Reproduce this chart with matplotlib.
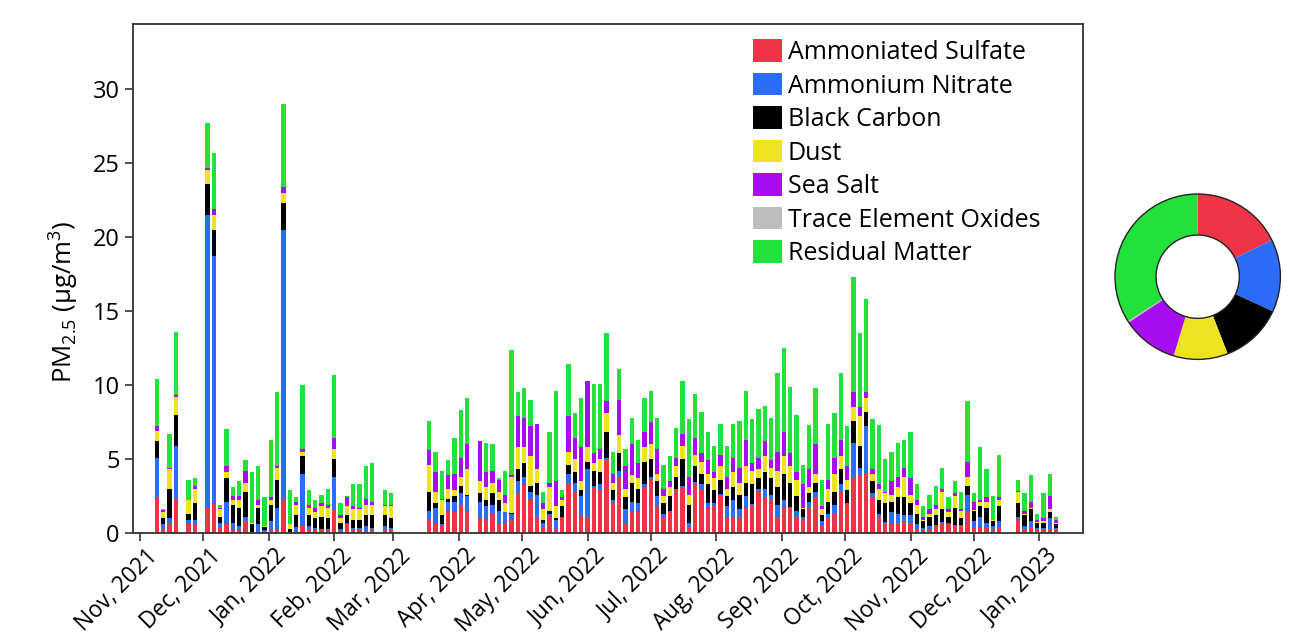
import matplotlib
matplotlib.use("agg")
import matplotlib.pyplot as plt
import matplotlib.dates as mdates
import matplotlib.transforms as mtransforms
from matplotlib.patches import Circle
import numpy as np
import pandas as pd

nan = np.nan

# sampling every 3rd day, first sample 2021-11-09
start_date = "2021-11-09"
n_samples = 143

# species mass (ug/m3) per sample, nan = no sample
sulfate = [
    2.4, 0.3, 0.7, 2.3, nan, 0.6, 0.6, nan, 1.7, 2.0,
    0.4, 0.6, 0.2, 0.3, 0.8, 0.05, 0.1, 0.0, 0.2, 0.2,
    2.3, 0.05, 0.1, 0.5, 0.2, 0.3, 0.2, 0.2, 1.6, 0.1,
    0.6, 0.3, 0.3, 0.1, 0.3, nan, 0.3, 0.3, nan, nan,
    nan, nan, nan, 0.9, 0.6, 0.5, 1.5, 1.4, 1.9, 1.5,
    nan, 1.0, 0.9, 1.3, 0.7, 0.7, 0.9, 2.7, 3.3, 2.2,
    1.1, 0.4, 1.2, 0.2, 1.0, 3.3, 2.8, 1.2, 1.1, 3.1,
    2.9, 5.0, 2.0, 3.8, 0.7, 1.4, 1.5, 3.1, 3.6, 1.8,
    1.1, 1.4, 2.9, 3.1, 0.4, 3.4, 3.0, 1.7, 1.8, 2.6,
    1.0, 1.1, 1.1, 1.7, 1.9, 2.8, 2.4, 2.3, 1.1, 1.7,
    1.7, 1.1, 0.9, 1.7, 2.4, 0.5, 1.0, 1.3, 2.8, 2.0,
    3.8, 3.9, 4.0, 2.4, 1.1, 0.7, 0.6, 0.7, 0.8, 0.7,
    0.3, 0.3, 0.3, 0.5, 0.7, 0.6, 0.5, 0.5, 1.5, 0.4,
    0.4, 0.4, 0.3, 0.4, nan, nan, 0.9, 0.3, 0.4, 0.3,
    0.3, 0.3, 0.3,
]
nitrate = [
    2.7, 0.3, 0.3, 3.6, nan, 0.3, 0.3, nan, 19.8, 16.7,
    0.3, 1.5, 0.5, 0.2, 0.3, 0.05, 0.5, 0.2, 0.6, 1.5,
    18.2, 0.05, 0.3, 3.5, 0.3, 0.05, 0.1, 0.1, 2.2, 0.2,
    0.05, 0.05, 0.05, 0.4, 0.05, nan, 0.2, 0.05, nan, nan,
    nan, nan, nan, 0.6, 1.1, 0.1, 0.6, 0.7, 0.8, 1.0,
    nan, 1.1, 0.9, 0.6, 0.8, 0.7, 0.4, 0.8, 0.5, 0.6,
    1.5, 0.3, 0.1, 0.7, 0.05, 0.7, 0.6, 1.3, 3.2, 0.1,
    0.4, 0.1, 0.2, 0.4, 0.9, 0.7, 0.5, 0.2, 0.2, 0.7,
    0.2, 0.1, 0.05, 0.05, 0.3, 0.05, 0.3, 0.3, 0.2, 0.05,
    0.8, 1.1, 0.5, 0.8, 0.05, 0.2, 0.6, 0.3, 0.8, 0.5,
    0.05, 0.4, 0.2, 0.4, 0.4, 0.3, 0.3, 0.6, 0.5, 0.05,
    2.3, 0.5, 3.2, 0.3, 0.2, 0.05, 0.8, 0.6, 0.4, 0.5,
    0.3, 0.05, 0.2, 0.05, 0.05, 0.05, 0.05, 0.05, 1.1, 0.4,
    0.7, 0.3, 0.2, 0.4, nan, nan, 0.2, 0.2, 0.4, 0.05,
    0.05, 0.7, 0.05,
]
black_carbon = [
    1.1, 0.4, 2.0, 2.1, nan, 0.4, 1.1, nan, 2.1, 1.8,
    0.4, 1.6, 1.2, 1.2, 1.7, 0.5, 1.1, 0.2, 1.1, 1.9,
    1.8, 0.2, 0.8, 1.2, 0.7, 0.65, 0.8, 0.7, 1.2, 0.4,
    0.55, 0.55, 0.55, 0.7, 0.85, nan, 0.7, 0.65, nan, nan,
    nan, nan, nan, 1.3, 0.3, 0.6, 0.2, 0.4, 0.5, 0.1,
    nan, 0.6, 0.4, 0.8, 0.7, 0.05, 0.05, 0.8, 0.9, 0.4,
    0.8, 0.2, 0.2, 0.1, 0.75, 0.6, 0.7, 0.4, 0.5, 1.0,
    0.8, 1.7, 0.7, 1.2, 0.8, 1.3, 1.0, 1.5, 1.2, 1.0,
    0.7, 1.0, 0.85, 1.85, 1.2, 1.05, 0.7, 1.3, 0.9, 0.95,
    0.7, 0.9, 1.0, 0.9, 1.35, 0.7, 1.1, 1.1, 1.2, 1.8,
    1.65, 1.0, 0.5, 0.6, 0.6, 0.4, 0.8, 0.9, 1.0, 0.85,
    1.5, 1.5, 1.0, 0.8, 0.9, 1.25, 0.7, 1.1, 1.2, 0.8,
    0.7, 0.45, 0.6, 0.65, 0.85, 0.45, 1.15, 0.45, 0.6, 0.7,
    0.7, 1.0, 0.3, 1.0, nan, nan, 0.9, 0.7, 0.8, 0.35,
    0.35, 0.4, 0.25,
]
dust = [
    0.7, 0.4, 1.3, 1.2, nan, 0.9, 1.0, nan, 0.9, 1.0,
    0.5, 0.4, 0.3, 0.5, 0.6, 0.05, 0.2, 0.05, 0.3, 0.8,
    0.7, 0.3, 0.7, 0.3, 0.5, 0.4, 0.7, 0.7, 0.7, 0.3,
    0.6, 0.7, 0.7, 0.7, 0.7, nan, 0.6, 0.8, nan, nan,
    nan, nan, nan, 1.8, 0.8, 1.0, 0.7, 0.4, 0.6, 1.7,
    nan, 0.8, 0.9, 0.7, 0.6, 0.55, 2.45, 1.5, 1.1, 2.0,
    0.9, 0.7, 1.6, 0.8, 0.4, 0.9, 0.9, 0.6, 1.0, 0.5,
    0.9, 1.3, 0.5, 1.2, 0.6, 0.5, 0.7, 1.0, 1.0, 0.5,
    0.5, 0.6, 0.7, 0.9, 0.7, 0.8, 0.8, 0.7, 0.8, 0.9,
    0.5, 1.0, 0.8, 1.1, 0.9, 0.6, 1.1, 0.7, 1.1, 1.2,
    1.1, 1.1, 0.1, 0.4, 0.6, 0.4, 0.9, 1.2, 0.9, 0.7,
    0.9, 2.0, 0.9, 0.5, 0.8, 0.7, 0.5, 0.7, 1.4, 0.6,
    0.6, 0.1, 0.2, 0.4, 1.2, 0.3, 0.8, 0.5, 0.6, 0.05,
    0.3, 0.4, 0.05, 0.4, nan, nan, 0.8, 0.1, 0.1, 0.05,
    0.1, 0.2, 0.05,
]
sea_salt = [
    0.3, 0.15, 0.1, 0.1, nan, 0.0, 0.2, nan, 0.2, 0.4,
    0.1, 0.4, 0.3, 0.3, 0.8, 0.05, 0.3, 0.05, 0.2, 0.1,
    0.4, 0.0, 0.2, 0.2, 0.2, 0.3, 0.2, 0.2, 0.7, 0.2,
    0.6, 0.2, 0.1, 0.4, 0.2, nan, 0.1, 0.1, nan, nan,
    nan, nan, nan, 1.0, 1.3, 0.1, 0.9, 1.1, 1.3, 1.7,
    nan, 2.7, 1.0, 0.8, 0.8, 0.6, 0.1, 2.1, 2.0, 2.0,
    3.1, 0.4, 0.3, 1.7, 0.2, 2.4, 1.4, 2.3, 4.5, 0.7,
    0.7, 0.8, 0.6, 2.4, 1.5, 2.1, 1.0, 1.0, 1.5, 1.7,
    0.5, 0.4, 0.6, 0.8, 1.2, 1.1, 0.6, 0.9, 0.4, 0.8,
    0.8, 1.0, 1.0, 1.8, 0.5, 0.8, 1.0, 0.5, 1.3, 1.6,
    0.9, 0.5, 1.6, 1.2, 2.0, 0.2, 0.6, 1.1, 1.1, 0.9,
    1.0, 0.6, 0.4, 0.3, 0.3, 0.1, 0.9, 0.7, 0.6, 1.1,
    0.3, 0.2, 0.3, 0.3, 0.2, 0.2, 0.2, 0.1, 1.0, 0.55,
    0.1, 0.3, 0.05, 0.2, nan, nan, 0.05, 0.2, 0.4, 0.15,
    0.2, 0.9, 0.25,
]
# trace element oxides too small to see on this scale
trace = [0.0] * n_samples
residual = [
    3.2, 0.05, 2.3, 4.3, nan, 1.4, 0.5, nan, 3.0, 3.8,
    0.2, 2.5, 0.6, 1.0, 0.7, 3.4, 2.3, 1.9, 3.9, 5.0,
    5.6, 2.3, 0.3, 4.3, 1.0, 0.5, 0.6, 1.1, 4.3, 0.8,
    0.1, 1.5, 1.6, 2.2, 2.6, nan, 1.0, 0.8, nan, nan,
    nan, nan, nan, 2.0, 1.4, 1.9, 1.0, 2.4, 3.2, 3.1,
    nan, 0.0, 2.0, 1.8, 0.1, 1.6, 8.5, 1.6, 2.0, 1.8,
    0.0, 0.8, 3.4, 6.1, 0.5, 3.5, 1.7, 3.3, 0.0, 4.7,
    4.4, 4.6, 1.5, 2.1, 1.2, 1.8, 1.6, 2.3, 2.1, 2.1,
    1.6, 1.7, 2.0, 3.6, 3.9, 3.0, 2.8, 1.9, 1.8, 2.1,
    2.1, 2.3, 3.2, 3.3, 3.0, 3.3, 2.4, 2.9, 5.3, 5.7,
    4.5, 3.9, 1.3, 3.0, 3.8, 1.8, 3.8, 3.0, 4.5, 2.7,
    7.8, 5.0, 6.3, 3.4, 4.0, 2.2, 2.0, 2.3, 1.9, 3.1,
    1.1, 0.7, 1.0, 1.3, 1.4, 0.8, 0.8, 1.2, 4.1, 0.6,
    3.6, 1.9, 1.6, 2.9, nan, nan, 0.75, 1.2, 1.8, 0.4,
    1.7, 1.5, 0.2,
]

species = ["Ammoniated Sulfate", "Ammonium Nitrate", "Black Carbon", "Dust",
           "Sea Salt", "Trace Element Oxides", "Residual Matter"]
colors = ["#EF3448", "#2B6CF8", "#000000", "#EEE31F", "#A70CF2", "#BDBDBD", "#22E13A"]

# period-average share (%) shown in the donut
donut_share = [17.7, 14.2, 12.2, 10.6, 11.0, 0.3, 34.0]

plt.rcParams['font.family'] = ['Open Sans', 'DejaVu Sans']
plt.rcParams['mathtext.fontset'] = 'custom'
plt.rcParams['mathtext.rm'] = 'Open Sans'

dates = pd.date_range(start_date, periods=n_samples, freq="3D")
xnum = mdates.date2num(dates)

fig = plt.figure(figsize=(12.93, 6.37), dpi=100)
ax = fig.add_axes([133 / 1293, 104 / 637, 950 / 1293, 509 / 637])

layers = [sulfate, nitrate, black_carbon, dust, sea_salt, trace, residual]
valid = ~np.isnan(np.array(sulfate, dtype=float))
bottom = np.zeros(n_samples)
handles = []
for name, vals, c in zip(species, layers, colors):
    v = np.nan_to_num(np.array(vals, dtype=float))
    h = ax.bar(xnum[valid], v[valid], width=2.0, bottom=bottom[valid],
               color=c, label=name, linewidth=0)
    handles.append(h)
    bottom = bottom + v

ax.set_xlim(mdates.date2num(pd.Timestamp("2021-10-28 16:00")),
            mdates.date2num(pd.Timestamp("2023-01-21 17:00")))
ax.set_ylim(0, 34.4)
ax.set_yticks([0, 5, 10, 15, 20, 25, 30])
ax.xaxis.set_major_locator(mdates.MonthLocator())
ax.xaxis.set_major_formatter(mdates.DateFormatter("%b, %Y"))
ax.tick_params(axis="both", length=6, width=1.2, color="#333333")
ax.tick_params(axis="y", labelsize=17)
ax.tick_params(axis="x", labelsize=16.3, pad=2)
shift = mtransforms.ScaledTranslation(6 / 100, 0, fig.dpi_scale_trans)
for lab in ax.get_xticklabels():
    lab.set_rotation(45)
    lab.set_ha("right")
    lab.set_va("top")
    lab.set_rotation_mode("anchor")
    lab.set_transform(lab.get_transform() + shift)
for s in ax.spines.values():
    s.set_linewidth(1.3)
    s.set_color("#333333")

ax.set_ylabel(r"PM$_{2.5}$ (μg/m$^3$)", fontsize=18.5, va="center")
ax.yaxis.set_label_coords(-0.074, 0.455)

ax.legend(handles=handles, loc="upper left", bbox_to_anchor=(0.6526, 0.970),
          frameon=False, fontsize=18, borderpad=0, borderaxespad=0,
          handlelength=1.15, handleheight=1.0, handletextpad=0.25,
          labelspacing=0.31)

# donut of average composition
dax = fig.add_axes([1112.7 / 1293, (637 - 361.7) / 637, 170 / 1293, 170 / 637])
r_out = 0.973
dax.pie(donut_share, colors=colors, startangle=90, counterclock=False,
        radius=r_out, wedgeprops=dict(width=0.483, linewidth=0))
dax.add_patch(Circle((0, 0), r_out, fill=False, ec="#222222", lw=1.0))
dax.add_patch(Circle((0, 0), r_out - 0.483, fill=False, ec="#222222", lw=1.0))
dax.set_xlim(-1, 1)
dax.set_ylim(-1, 1)
dax.set_aspect("equal")
dax.axis("off")

fig.savefig("out.png", dpi=100)
